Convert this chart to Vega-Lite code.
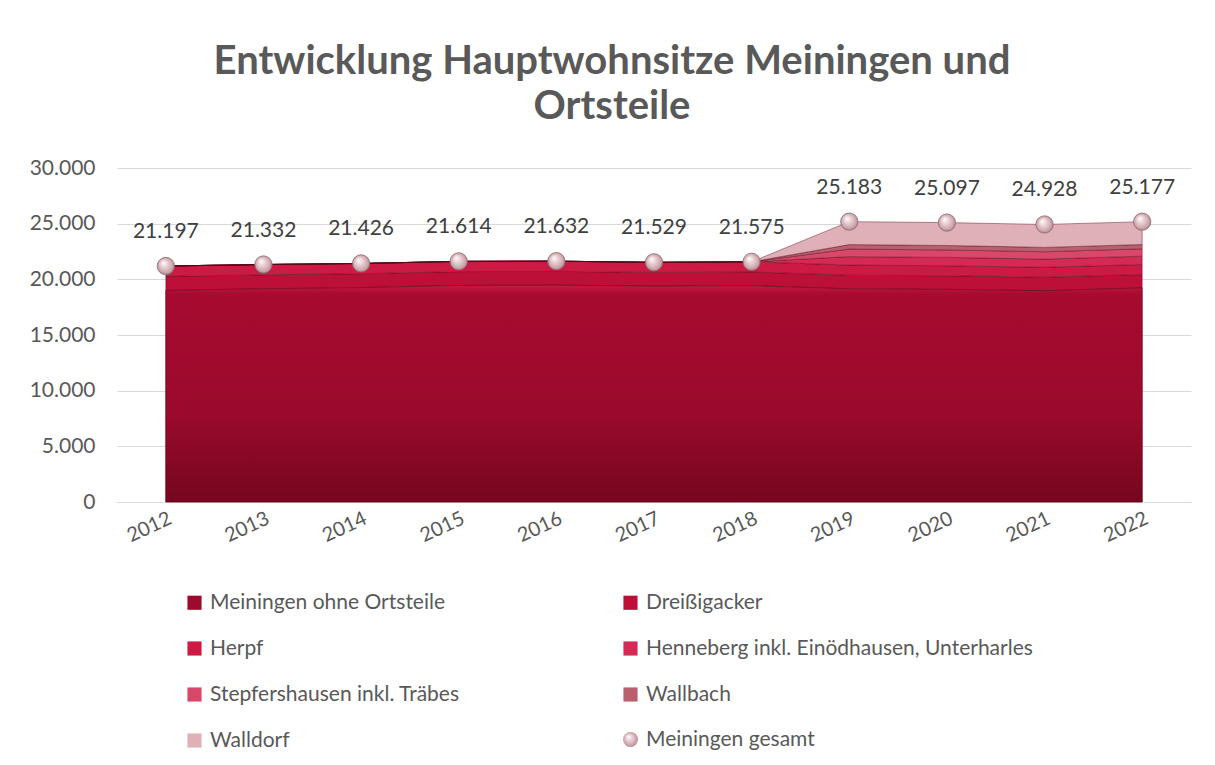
{
  "$schema": "https://vega.github.io/schema/vega-lite/v6.json",
  "autosize": {"type": "none"},
  "width": 1074,
  "height": 334,
  "padding": {"left": 117, "top": 168, "right": 24, "bottom": 263},
  "background": "#ffffff",
  "config": {
    "locale": {"number": {"decimal": ",", "thousands": ".", "grouping": [3], "currency": ["", " €"]}},
    "view": {"stroke": null},
    "font": "Lato"
  },
  "title": {
    "text": ["Entwicklung Hauptwohnsitze Meiningen und", "Ortsteile"],
    "font": "Lato",
    "fontSize": 40,
    "fontWeight": "bold",
    "color": "#595959",
    "anchor": "middle",
    "dx": -42,
    "offset": 30,
    "lineHeight": 45
  },
  "datasets": {
    "parts": [
      {"year": "2012", "series": "Meiningen ohne Ortsteile", "rank": 1, "value": 19007},
      {"year": "2013", "series": "Meiningen ohne Ortsteile", "rank": 1, "value": 19152},
      {"year": "2014", "series": "Meiningen ohne Ortsteile", "rank": 1, "value": 19256},
      {"year": "2015", "series": "Meiningen ohne Ortsteile", "rank": 1, "value": 19449},
      {"year": "2016", "series": "Meiningen ohne Ortsteile", "rank": 1, "value": 19477},
      {"year": "2017", "series": "Meiningen ohne Ortsteile", "rank": 1, "value": 19384},
      {"year": "2018", "series": "Meiningen ohne Ortsteile", "rank": 1, "value": 19435},
      {"year": "2019", "series": "Meiningen ohne Ortsteile", "rank": 1, "value": 19150},
      {"year": "2020", "series": "Meiningen ohne Ortsteile", "rank": 1, "value": 19100},
      {"year": "2021", "series": "Meiningen ohne Ortsteile", "rank": 1, "value": 18980},
      {"year": "2022", "series": "Meiningen ohne Ortsteile", "rank": 1, "value": 19230},
      {"year": "2012", "series": "Dreißigacker", "rank": 2, "value": 1260},
      {"year": "2013", "series": "Dreißigacker", "rank": 2, "value": 1255},
      {"year": "2014", "series": "Dreißigacker", "rank": 2, "value": 1250},
      {"year": "2015", "series": "Dreißigacker", "rank": 2, "value": 1245},
      {"year": "2016", "series": "Dreißigacker", "rank": 2, "value": 1240},
      {"year": "2017", "series": "Dreißigacker", "rank": 2, "value": 1235},
      {"year": "2018", "series": "Dreißigacker", "rank": 2, "value": 1230},
      {"year": "2019", "series": "Dreißigacker", "rank": 2, "value": 1225},
      {"year": "2020", "series": "Dreißigacker", "rank": 2, "value": 1220},
      {"year": "2021", "series": "Dreißigacker", "rank": 2, "value": 1210},
      {"year": "2022", "series": "Dreißigacker", "rank": 2, "value": 1200},
      {"year": "2012", "series": "Herpf", "rank": 3, "value": 930},
      {"year": "2013", "series": "Herpf", "rank": 3, "value": 925},
      {"year": "2014", "series": "Herpf", "rank": 3, "value": 920},
      {"year": "2015", "series": "Herpf", "rank": 3, "value": 920},
      {"year": "2016", "series": "Herpf", "rank": 3, "value": 915},
      {"year": "2017", "series": "Herpf", "rank": 3, "value": 910},
      {"year": "2018", "series": "Herpf", "rank": 3, "value": 910},
      {"year": "2019", "series": "Herpf", "rank": 3, "value": 905},
      {"year": "2020", "series": "Herpf", "rank": 3, "value": 900},
      {"year": "2021", "series": "Herpf", "rank": 3, "value": 890},
      {"year": "2022", "series": "Herpf", "rank": 3, "value": 900},
      {"year": "2012", "series": "Henneberg inkl. Einödhausen, Unterharles", "rank": 4, "value": 0},
      {"year": "2013", "series": "Henneberg inkl. Einödhausen, Unterharles", "rank": 4, "value": 0},
      {"year": "2014", "series": "Henneberg inkl. Einödhausen, Unterharles", "rank": 4, "value": 0},
      {"year": "2015", "series": "Henneberg inkl. Einödhausen, Unterharles", "rank": 4, "value": 0},
      {"year": "2016", "series": "Henneberg inkl. Einödhausen, Unterharles", "rank": 4, "value": 0},
      {"year": "2017", "series": "Henneberg inkl. Einödhausen, Unterharles", "rank": 4, "value": 0},
      {"year": "2018", "series": "Henneberg inkl. Einödhausen, Unterharles", "rank": 4, "value": 0},
      {"year": "2019", "series": "Henneberg inkl. Einödhausen, Unterharles", "rank": 4, "value": 760},
      {"year": "2020", "series": "Henneberg inkl. Einödhausen, Unterharles", "rank": 4, "value": 750},
      {"year": "2021", "series": "Henneberg inkl. Einödhausen, Unterharles", "rank": 4, "value": 740},
      {"year": "2022", "series": "Henneberg inkl. Einödhausen, Unterharles", "rank": 4, "value": 750},
      {"year": "2012", "series": "Stepfershausen inkl. Träbes", "rank": 5, "value": 0},
      {"year": "2013", "series": "Stepfershausen inkl. Träbes", "rank": 5, "value": 0},
      {"year": "2014", "series": "Stepfershausen inkl. Träbes", "rank": 5, "value": 0},
      {"year": "2015", "series": "Stepfershausen inkl. Träbes", "rank": 5, "value": 0},
      {"year": "2016", "series": "Stepfershausen inkl. Träbes", "rank": 5, "value": 0},
      {"year": "2017", "series": "Stepfershausen inkl. Träbes", "rank": 5, "value": 0},
      {"year": "2018", "series": "Stepfershausen inkl. Träbes", "rank": 5, "value": 0},
      {"year": "2019", "series": "Stepfershausen inkl. Träbes", "rank": 5, "value": 680},
      {"year": "2020", "series": "Stepfershausen inkl. Träbes", "rank": 5, "value": 670},
      {"year": "2021", "series": "Stepfershausen inkl. Träbes", "rank": 5, "value": 660},
      {"year": "2022", "series": "Stepfershausen inkl. Träbes", "rank": 5, "value": 660},
      {"year": "2012", "series": "Wallbach", "rank": 6, "value": 0},
      {"year": "2013", "series": "Wallbach", "rank": 6, "value": 0},
      {"year": "2014", "series": "Wallbach", "rank": 6, "value": 0},
      {"year": "2015", "series": "Wallbach", "rank": 6, "value": 0},
      {"year": "2016", "series": "Wallbach", "rank": 6, "value": 0},
      {"year": "2017", "series": "Wallbach", "rank": 6, "value": 0},
      {"year": "2018", "series": "Wallbach", "rank": 6, "value": 0},
      {"year": "2019", "series": "Wallbach", "rank": 6, "value": 400},
      {"year": "2020", "series": "Wallbach", "rank": 6, "value": 400},
      {"year": "2021", "series": "Wallbach", "rank": 6, "value": 390},
      {"year": "2022", "series": "Wallbach", "rank": 6, "value": 390},
      {"year": "2012", "series": "Walldorf", "rank": 7, "value": 0},
      {"year": "2013", "series": "Walldorf", "rank": 7, "value": 0},
      {"year": "2014", "series": "Walldorf", "rank": 7, "value": 0},
      {"year": "2015", "series": "Walldorf", "rank": 7, "value": 0},
      {"year": "2016", "series": "Walldorf", "rank": 7, "value": 0},
      {"year": "2017", "series": "Walldorf", "rank": 7, "value": 0},
      {"year": "2018", "series": "Walldorf", "rank": 7, "value": 0},
      {"year": "2019", "series": "Walldorf", "rank": 7, "value": 2063},
      {"year": "2020", "series": "Walldorf", "rank": 7, "value": 2057},
      {"year": "2021", "series": "Walldorf", "rank": 7, "value": 2058},
      {"year": "2022", "series": "Walldorf", "rank": 7, "value": 2047}
    ],
    "totals": [
      {"year": "2012", "total": 21197},
      {"year": "2013", "total": 21332},
      {"year": "2014", "total": 21426},
      {"year": "2015", "total": 21614},
      {"year": "2016", "total": 21632},
      {"year": "2017", "total": 21529},
      {"year": "2018", "total": 21575},
      {"year": "2019", "total": 25183},
      {"year": "2020", "total": 25097},
      {"year": "2021", "total": 24928},
      {"year": "2022", "total": 25177}
    ]
  },
  "encoding": {
    "x": {
      "field": "year",
      "type": "ordinal",
      "scale": {"type": "point", "padding": 0.5},
      "axis": {
        "title": null,
        "labelAngle": -25,
        "labelAlign": "right",
        "labelBaseline": "top",
        "labelFont": "Lato",
        "labelFontSize": 20,
        "labelColor": "#595959",
        "labelPadding": 6,
        "ticks": false,
        "domainColor": "#d9d9d9",
        "domainWidth": 1,
        "grid": false
      }
    }
  },
  "layer": [
    {
      "data": {"name": "parts"},
      "mark": {"type": "area", "stroke": "#5a0818", "strokeWidth": 0.8, "strokeOpacity": 0.55},
      "encoding": {
        "y": {
          "field": "value",
          "type": "quantitative",
          "stack": "zero",
          "scale": {"domain": [0, 30000]},
          "axis": {
            "title": null,
            "values": [0, 5000, 10000, 15000, 20000, 25000, 30000],
            "format": ",d",
            "labelFont": "Lato",
            "labelFontSize": 21,
            "labelColor": "#595959",
            "labelPadding": 22,
            "ticks": false,
            "domain": false,
            "gridColor": "#d9d9d9",
            "gridWidth": 1
          }
        },
        "order": {"field": "rank", "type": "quantitative"},
        "color": {
          "field": "series",
          "type": "nominal",
          "scale": {
            "domain": ["Meiningen ohne Ortsteile", "Dreißigacker", "Herpf", "Henneberg inkl. Einödhausen, Unterharles", "Stepfershausen inkl. Träbes", "Wallbach", "Walldorf"],
            "range": ["#9c0b2b", "#bc1039", "#cc1a45", "#d42a55", "#d9486a", "#b9606f", "#dfb0b8"]
          },
          "legend": {
            "title": null,
            "orient": "none",
            "direction": "horizontal",
            "legendX": 67,
            "legendY": 424,
            "columns": 2,
            "columnPadding": 160,
            "rowPadding": 24,
            "padding": 0,
            "symbolType": "square",
            "symbolSize": 200,
            "symbolStrokeWidth": 0,
            "labelFont": "Lato",
            "labelFontSize": 21,
            "labelColor": "#595959",
            "labelOffset": 5,
            "labelLimit": 600
          }
        }
      }
    },
    {
      "data": {"name": "parts"},
      "transform": [{"filter": "datum.series === 'Meiningen ohne Ortsteile'"}],
      "mark": {
        "type": "area",
        "stroke": "#5a0818",
        "strokeWidth": 0.8,
        "strokeOpacity": 0.6,
        "fill": {
          "gradient": "linear",
          "x1": 0, "y1": 0, "x2": 0, "y2": 1,
          "stops": [
            {"offset": 0, "color": "#c81a44"},
            {"offset": 0.04, "color": "#a80a30"},
            {"offset": 0.6, "color": "#9a0a2c"},
            {"offset": 1, "color": "#76061f"}
          ]
        }
      },
      "encoding": {
        "y": {"field": "value", "type": "quantitative", "stack": null}
      }
    },
    {
      "data": {"name": "totals"},
      "mark": {
        "type": "point",
        "size": 300,
        "filled": true,
        "opacity": 1,
        "stroke": "#8c6a70",
        "strokeWidth": 0.8,
        "fill": {
          "gradient": "radial",
          "x1": 0.35, "y1": 0.3, "r1": 0,
          "x2": 0.5, "y2": 0.5, "r2": 0.55,
          "stops": [
            {"offset": 0, "color": "#ffffff"},
            {"offset": 0.35, "color": "#ecd3d6"},
            {"offset": 0.8, "color": "#c9a2a8"},
            {"offset": 1, "color": "#9a7479"}
          ]
        }
      },
      "encoding": {
        "y": {"field": "total", "type": "quantitative"},
        "shape": {
          "datum": "Meiningen gesamt",
          "type": "nominal",
          "scale": {"range": ["circle"]},
          "legend": {
            "title": null,
            "orient": "none",
            "legendX": 503,
            "legendY": 561,
            "padding": 0,
            "symbolSize": 220,
            "symbolStrokeColor": "#8c6a70",
            "symbolStrokeWidth": 0.8,
            "symbolFillColor": "#e2c4c8",
            "labelFont": "Lato",
            "labelFontSize": 21,
            "labelColor": "#595959",
            "labelOffset": 5,
            "labelLimit": 600
          }
        }
      }
    },
    {
      "data": {"name": "totals"},
      "mark": {
        "type": "text",
        "dy": -34,
        "baseline": "middle",
        "align": "center",
        "font": "Lato",
        "fontSize": 21,
        "color": "#404040"
      },
      "encoding": {
        "y": {"field": "total", "type": "quantitative"},
        "text": {"field": "total", "type": "quantitative", "format": ",d"}
      }
    }
  ]
}
